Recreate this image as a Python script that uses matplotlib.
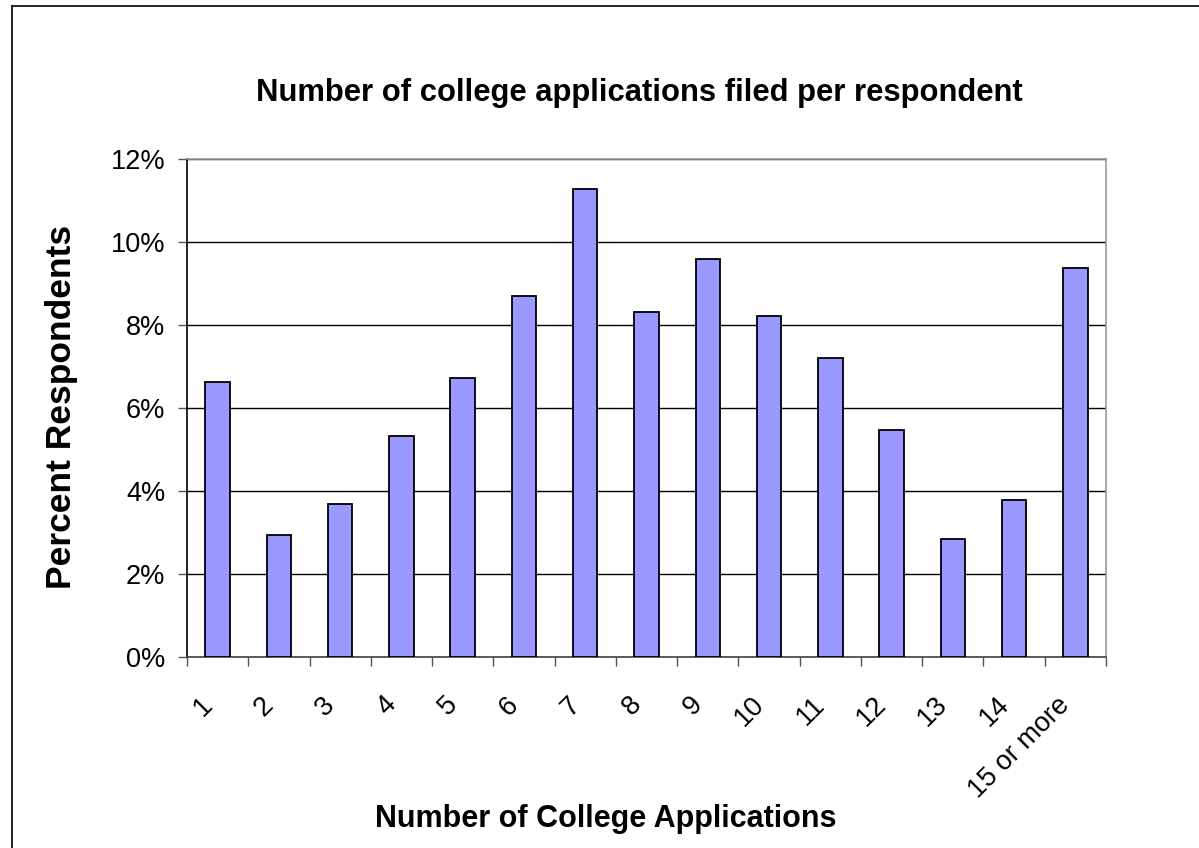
import matplotlib
matplotlib.use('Agg')
import numpy as np
import matplotlib.pyplot as plt
from matplotlib.lines import Line2D

categories = ['1', '2', '3', '4', '5', '6', '7', '8', '9', '10', '11', '12', '13', '14', '15 or more']
percent = [6.63, 2.94, 3.68, 5.32, 6.73, 8.69, 11.27, 8.31, 9.58, 8.22, 7.21, 5.48, 2.84, 3.79, 9.37]
y_ticks = [0, 2, 4, 6, 8, 10, 12]
y_tick_labels = ['0%', '2%', '4%', '6%', '8%', '10%', '12%']

title = 'Number of college applications filed per respondent'
x_label = 'Number of College Applications'
y_label = 'Percent Respondents'

plt.rcParams['font.family'] = ['Liberation Sans', 'DejaVu Sans']

W, H = 1199, 848
fig = plt.figure(figsize=(W / 100, H / 100), dpi=100)
fig.patch.set_facecolor('white')

ax = fig.add_axes([187 / W, 1 - 657 / H, (1106 - 187) / W, (657 - 159) / H])
x = np.arange(len(categories))
ax.bar(x, percent, width=0.4, color='#9999FF', edgecolor='black', linewidth=1.3, zorder=3)

ax.set_xlim(-0.5, len(categories) - 0.5)
ax.set_ylim(0, 12)
ax.set_yticks(y_ticks)
ax.set_yticklabels(y_tick_labels, fontsize=19.5)
ax.yaxis.grid(True, color='black', linewidth=1.0)
ax.set_axisbelow(True)

ax.set_xticks(x)
ax.set_xticklabels(categories, rotation=45, ha='right', fontsize=19.5)
ax.tick_params(axis='x', which='major', length=0, pad=25)
ax.set_xticks(np.arange(-0.5, len(categories), 1.0), minor=True)
ax.tick_params(axis='x', which='minor', length=6.5, width=1.0, color='#555555')
ax.tick_params(axis='y', which='major', length=6.5, width=1.0, color='#555555', pad=9)

ax.spines['left'].set_color('black')
ax.spines['bottom'].set_color('#444444')
ax.spines['top'].set_color('#999999')
ax.spines['right'].set_color('#999999')
for s in ax.spines.values():
    s.set_linewidth(1.2)
ax.spines['top'].set_zorder(4)

fig.text(639 / W, 1 - 93 / H, title, ha='center', va='center', fontsize=22.3, fontweight='bold')
fig.text(606 / W, 1 - 819 / H, x_label, ha='center', va='center', fontsize=22, fontweight='bold')
fig.text(62 / W, 1 - 407 / H, y_label, ha='center', va='center', rotation=90, fontsize=25.5, fontweight='bold')

fig.add_artist(Line2D([12.5 / W, 12.5 / W], [0, 1 - 6 / H], transform=fig.transFigure, color='black', linewidth=1.2))
fig.add_artist(Line2D([12.5 / W, 1], [1 - 6 / H, 1 - 6 / H], transform=fig.transFigure, color='black', linewidth=1.2))

fig.savefig('out.png', dpi=100)
